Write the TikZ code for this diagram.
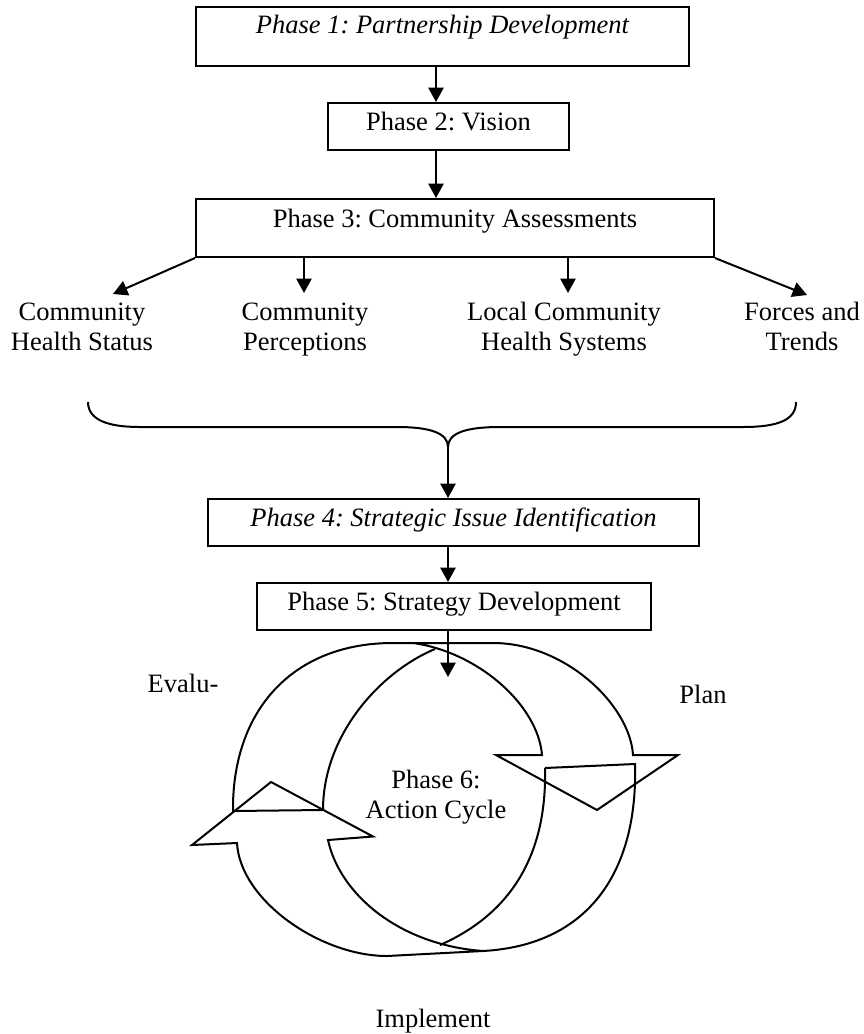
\documentclass[tikz,border=0pt]{standalone}
\usepackage{fontspec}
\setmainfont{Liberation Serif}
\usetikzlibrary{arrows.meta}
\frenchspacing
\newcommand{\twoline}[2]{\begin{tabular}[t]{@{}c@{}}#1\\#2\end{tabular}}
\newcommand{\diagfs}{\fontsize{13.25pt}{15.3pt}\selectfont\frenchspacing}
\begin{document}
\begin{tikzpicture}[x=0.5pt,y=-0.5pt, line width=1pt,
  every node/.style={font=\diagfs},
  phasebox/.style={draw, line width=1pt, inner xsep=0pt, inner ysep=0pt, minimum height=0pt, anchor=base},
  arr/.style={-{Triangle[length=7.2pt,width=7.6pt]}, line width=1pt},
  lbl/.style={inner sep=0pt, anchor=base},
  ring/.style={line width=1pt, line join=miter}]
\useasboundingbox (0,0) rectangle (863,1034);

% phase boxes
\node[phasebox, font=\diagfs\itshape, text height=13pt, text depth=16.5pt, minimum width=246.5pt] (p1) at (442.5,33) {Phase 1: Partnership Development};
\node[phasebox, text height=13.5pt, text depth=10pt, minimum width=120.5pt] (p2) at (448.5,130) {Phase 2: Vision};
\node[phasebox, text height=14pt, text depth=15pt, minimum width=259pt] (p3) at (455,227) {Phase 3: Community Assessments};
\node[phasebox, font=\diagfs\itshape, text height=13.5pt, text depth=10pt, minimum width=245.5pt] (p4) at (453.5,526) {Phase 4: Strategic Issue Identification};
\node[phasebox, text height=13.5pt, text depth=10pt, minimum width=197pt] (p5) at (454,610) {Phase 5: Strategy Development};

% assessment labels
\node[lbl] (l1) at (82,320) {\twoline{Community}{Health Status}};
\node[lbl] (l2) at (305,320) {\twoline{Community}{Perceptions}};
\node[lbl] (l3) at (564,320) {\twoline{Local Community}{Health Systems}};
\node[lbl] (l4) at (802,320) {\twoline{Forces and}{Trends}};

% helper coordinates
\coordinate (ax) at (436,0);
\coordinate (bx) at (448,0);
\coordinate (t1) at (113,294);
\coordinate (t2) at (304,293);
\coordinate (t3) at (568,293);
\coordinate (t4) at (807,295);
\coordinate (btip) at (448,447);
\coordinate (c6) at (448,677);

% arrows
\draw[arr] (p1.south -| ax) -- (p2.north -| ax);
\draw[arr] (p2.south -| ax) -- (p3.north -| ax);
\draw[arr] (p3.south west) -- (t1);
\draw[arr] (p3.south -| t2) -- (t2);
\draw[arr] (p3.south -| t3) -- (t3);
\draw[arr] (p3.south east) -- (t4);

% brace
\draw (88,402) .. controls (88,420) and (108,427) .. (140,427) -- (397,427)
  .. controls (430,427) and (448,433) .. (btip)
  .. controls (448,433) and (466,427) .. (500,427) -- (743,427)
  .. controls (778,427) and (796,420) .. (796,402);
\draw[arr] (btip) -- (p4.north -| btip);
\draw[arr] (p4.south -| bx) -- (p5.north -| bx);
\draw[arr] (p5.south -| bx) -- (c6);

% action cycle: upper arrow (Plan)
\draw[ring] (323,810) -- (233,811) .. controls (232,710) and (293,643) .. (393,643) -- (493,643)
  .. controls (565,643) and (630,705) .. (633,755) -- (678,755) -- (597,810) -- (496,755) -- (542,755)
  .. controls (538,705) and (478,652) .. (413,643);
\draw[ring] (323,810) .. controls (323,735) and (380,672) .. (435,649);
% action cycle: lower arrow (Evaluate)
\draw[ring] (545,768) -- (635,764) .. controls (638,870) and (590,945) .. (483,951) -- (387,956)
  .. controls (320,956) and (240,900) .. (237,843) -- (192,845) -- (271,782) -- (373,836.5) -- (328,840)
  .. controls (340,895) and (400,945) .. (483,951);
\draw[ring] (545,768) .. controls (547,850) and (515,912) .. (440,945);

% cycle labels
\node[lbl] (ev) at (183,692) {Evalu-};
\node[lbl] (pl) at (703,703) {Plan};
\node[lbl] (p6) at (436,788) {\twoline{Phase 6:}{Action Cycle}};
\node[lbl] (im) at (433,1027) {Implement};
\end{tikzpicture}
\end{document}
